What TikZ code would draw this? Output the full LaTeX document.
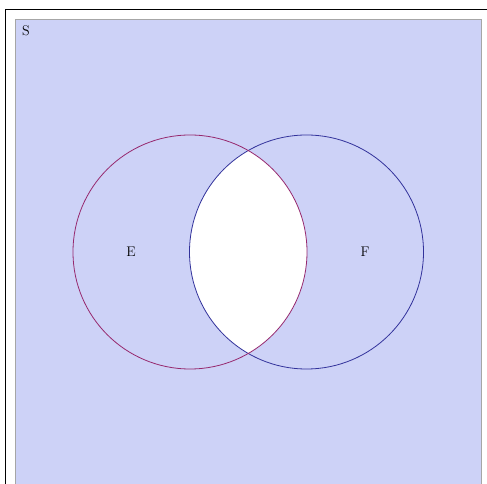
\documentclass[tikz,border=0pt]{standalone}
\usepackage{xcolor}
\usepackage{tikz}
\usetikzlibrary{positioning, calc}

\definecolor{spacefill}{RGB}{205,210,247}
\definecolor{ecol}{RGB}{150,40,110}
\definecolor{fcol}{RGB}{50,50,155}

\begin{document}
\begin{tikzpicture}[x=1pt,y=1pt,
  setlabel/.style={font=\fontsize{14}{16}\selectfont, inner sep=0pt}]
  \useasboundingbox (0,0) rectangle (487,484);
  \clip (0,0) rectangle (487,484);

  % Centres of the two events
  \coordinate (E) at (190,232);
  \coordinate (F) at (306.5,232);

  % Page frame
  \draw[line width=0.9pt] (5,-10) -- (5,475) -- (495,475);

  % Sample space
  \fill[spacefill] (15,-10) rectangle (481,465);
  \draw[gray!70, line width=0.9pt] (15,-10) -- (15,465) -- (481,465) -- (481,-10);

  % Intersection left blank
  \begin{scope}
    \clip (E) circle (117pt);
    \fill[white] (F) circle (117pt);
  \end{scope}

  % Event boundaries
  \draw[fcol, line width=0.8pt] (F) circle (117pt);
  \draw[ecol, line width=0.8pt] (E) circle (117pt);

  % Labels
  \node[setlabel] (S) at (26,453) {S};
  \node[setlabel] (Elabel) at (131,232) {E};
  \node[setlabel] (Flabel) at (365,232) {F};
\end{tikzpicture}
\end{document}
